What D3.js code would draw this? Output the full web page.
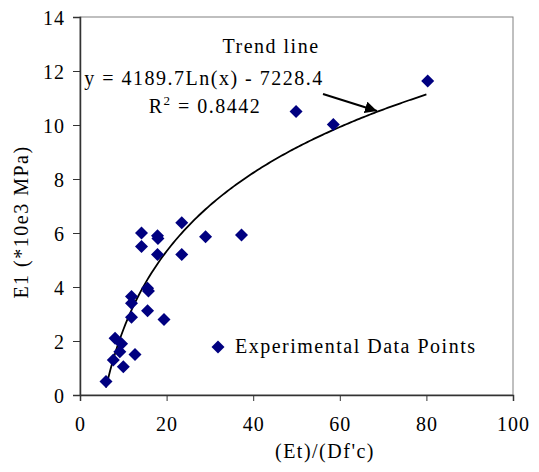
<!DOCTYPE html>
<html>
<head>
<meta charset="utf-8">
<script src="https://cdn.jsdelivr.net/npm/d3@7"></script>
<style>
  body { margin: 0; background: #fff; }
  text { font-family: "Liberation Serif", "Times New Roman", serif; fill: #000; }
</style>
</head>
<body>
<svg width="539" height="472"></svg>
<script>
// experimental points
var xVals = [6, 7.7, 8.1, 9.2, 9.6, 10, 12.7, 11.9, 11.9, 11.9, 15.6, 15.8, 15.6, 19.4,
             14.2, 14.2, 17.9, 18, 17.9, 23.5, 23.5, 29, 37.3, 49.9, 58.5, 80.3];
var yVals = [0.5, 1.3, 2.1, 1.6, 1.9, 1.05, 1.5, 3.65, 3.4, 2.88, 3.95, 3.85, 3.12, 2.8,
             6.0, 5.5, 5.9, 5.8, 5.2, 6.38, 5.2, 5.86, 5.93, 10.5, 10.02, 11.63];
// trend line y = a ln(x) + b  (MPa, plotted in units of 1e3)
var trendA = 4189.7, trendB = -7228.4, trendFrom = 6, trendTo = 80;
var xTicks = [0, 20, 40, 60, 80, 100];
var yTicks = [0, 2, 4, 6, 8, 10, 12, 14];

var svg = d3.select('svg'),
  mLeft = 80, mRight = 513, mTop = 17, mBottom = 395;

var x = d3.scaleLinear().domain([0, 100]).range([mLeft, mRight]);
var y = d3.scaleLinear().domain([0, 14]).range([mBottom, mTop]);

// frame
svg.append('rect')
  .attr('x', mLeft).attr('y', mTop)
  .attr('width', mRight - mLeft).attr('height', mBottom - mTop)
  .attr('fill', 'none').attr('stroke', '#808080').attr('stroke-width', 1);

var xAxis = svg.append('g')
  .attr('transform', 'translate(0,' + mBottom + ')')
  .call(d3.axisBottom(x).tickValues(xTicks).tickSize(6).tickPadding(16));
var yAxis = svg.append('g')
  .attr('transform', 'translate(' + mLeft + ',0)')
  .call(d3.axisLeft(y).tickValues(yTicks).tickSize(7).tickPadding(8));

[xAxis, yAxis].forEach(function(a) {
  a.select('.domain').attr('stroke', '#333').attr('stroke-width', 1.5);
  a.selectAll('.tick line').attr('stroke', '#333');
  a.selectAll('.tick text')
    .style('font-family', '"Liberation Serif", serif')
    .style('font-size', '20px').style('letter-spacing', '1px').attr('fill', '#000');
});
yAxis.selectAll('.tick text').attr('dy', '0.35em');

// trend curve
var curvePts = d3.range(trendFrom, trendTo + 0.01, 0.5).map(function(v) {
  return [v, (trendA * Math.log(v) + trendB) / 1000];
});
svg.append('path')
  .datum(curvePts)
  .attr('fill', 'none').attr('stroke', '#000').attr('stroke-width', 1.8)
  .attr('d', d3.line().x(function(d) { return x(d[0]); }).y(function(d) { return y(d[1]); }));

// points
var diamond = 'M0,-6.5L6.5,0L0,6.5L-6.5,0Z';
svg.append('g').selectAll('path')
  .data(xVals.map(function(v, i) { return [v, yVals[i]]; }))
  .enter().append('path')
  .attr('d', diamond)
  .attr('fill', '#000080')
  .attr('transform', function(d) { return 'translate(' + x(d[0]) + ',' + y(d[1]) + ')'; });

// annotation
svg.append('defs').append('marker')
  .attr('id', 'arr').attr('viewBox', '0 0 10 10')
  .attr('refX', 10).attr('refY', 5)
  .attr('markerWidth', 6).attr('markerHeight', 6)
  .attr('orient', 'auto')
  .append('path').attr('d', 'M0,0L10,5L0,10Z').attr('fill', '#000');
svg.append('line')
  .attr('x1', 323).attr('y1', 94).attr('x2', 377).attr('y2', 111)
  .attr('stroke', '#000').attr('stroke-width', 2)
  .attr('marker-end', 'url(#arr)');

function label(sel) {
  return sel.style('font-size', '20px').style('letter-spacing', '1.5px');
}
label(svg.append('text').attr('x', 271).attr('y', 53).attr('text-anchor', 'middle'))
  .text('Trend line');
label(svg.append('text').attr('x', 204).attr('y', 85).attr('text-anchor', 'middle'))
  .text('y = ' + trendA + 'Ln(x) - ' + (-trendB));
var r2 = label(svg.append('text').attr('x', 205).attr('y', 113).attr('text-anchor', 'middle'));
r2.append('tspan').text('R');
r2.append('tspan').attr('dy', -8).style('font-size', '13px').text('2');
r2.append('tspan').attr('dy', 8).text(' = 0.8442');

// legend
svg.append('path').attr('d', diamond).attr('fill', '#000080')
  .attr('transform', 'translate(218,347)');
label(svg.append('text').attr('x', 235).attr('y', 353))
  .text('Experimental Data Points');

// axis titles
label(svg.append('text').attr('x', 325).attr('y', 458).attr('text-anchor', 'middle'))
  .text("(Et)/(Df'c)");
label(svg.append('text')
  .attr('transform', 'translate(28,222) rotate(-90)')
  .attr('text-anchor', 'middle'))
  .text('E1 (*10e3 MPa)');
</script>
</body>
</html>
